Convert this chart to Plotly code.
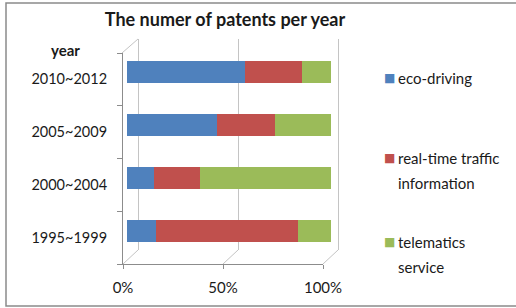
import plotly.graph_objects as go

# ---- data ----
periods = ["1995~1999", "2000~2004", "2005~2009", "2010~2012"]  # bottom -> top
eco_driving = [14, 13, 44, 58]
realtime_traffic = [70, 23, 28.5, 28]
telematics = [16, 64, 27.5, 14]
series_names = ["eco-driving", "real-time traffic<br>information", "telematics<br>service"]
colors = ["#4F81BD", "#C0504D", "#9BBB59"]
x_ticks = [0, 50, 100]
x_tick_labels = ["0%", "50%", "100%"]

W, H = 516, 308
def px(x):
    return x / W
def py(y):
    return 1 - y / H

FONT = "Lato, 'Open Sans', sans-serif"
TXT = "#1a1a1a"
AXC = "#8c8c8c"
GRID = "#c4c4c4"

fig = go.Figure()

# empty traces to register the frame subplots
fig.add_trace(go.Scatter(x=[], y=[], xaxis="x", yaxis="y", showlegend=False, hoverinfo="skip"))
fig.add_trace(go.Scatter(x=[], y=[], xaxis="x2", yaxis="y2", showlegend=False, hoverinfo="skip"))

for vals, name, col in zip([eco_driving, realtime_traffic, telematics], series_names, colors):
    fig.add_trace(go.Bar(
        y=periods, x=vals, orientation="h", name=name,
        marker=dict(color=col, line=dict(width=0)),
        width=0.4, xaxis="x3", yaxis="y3", showlegend=False,
    ))

shapes = []
# 3D frame diagonals (floor depth + wall top)
for (x0, y0, x1, y1) in [(123, 264, 138, 250), (223, 264, 238, 250), (323, 264, 338, 250), (122, 53, 138, 39)]:
    shapes.append(dict(type="line", xref="paper", yref="paper", x0=px(x0), y0=py(y0), x1=px(x1), y1=py(y1),
                       line=dict(color=GRID, width=1), layer="below"))
# outer frame
shapes.append(dict(type="rect", xref="paper", yref="paper", x0=px(6), y0=py(306), x1=1.02, y1=py(3),
                   line=dict(color="#8a8a8a", width=1.5), layer="below"))

annotations = [
    dict(text="<b>year</b>", x=px(65), y=py(50), xref="paper", yref="paper", showarrow=False,
         font=dict(family=FONT, size=15, color=TXT), xanchor="center", yanchor="middle"),
]
# legend-like keys
leg_rows = [(78, ["eco-driving"]), (158, ["real-time traffic", "information"]), (242, ["telematics", "service"])]
for (yy, lines), col in zip(leg_rows, colors):
    annotations.append(dict(text="■", x=px(382), y=py(yy), xref="paper", yref="paper", showarrow=False,
                            font=dict(family="DejaVu Sans", size=12, color=col), xanchor="left", yanchor="middle"))
    for i, ln in enumerate(lines):
        annotations.append(dict(text=ln, x=px(396), y=py(yy + 25 * i), xref="paper", yref="paper",
                                showarrow=False, font=dict(family=FONT, size=15, color=TXT),
                                xanchor="left", yanchor="middle"))

fig.update_layout(
    width=W, height=H, autosize=False,
    margin=dict(l=0, r=0, t=0, b=0, autoexpand=False),
    paper_bgcolor="white", plot_bgcolor="rgba(0,0,0,0)",
    barmode="stack",
    title=dict(text="<b>The numer of patents per year</b>", x=px(225), y=py(20), xanchor="center", yanchor="middle",
               font=dict(family=FONT, size=18, color=TXT)),
    # back wall gridlines (range padded so edge gridlines are not clipped)
    xaxis=dict(domain=[px(136), px(340)], range=[-1, 101], tickvals=x_ticks, showgrid=True, gridcolor=GRID,
               gridwidth=1, showticklabels=False, ticks="", zeroline=False, showline=False, anchor="y",
               fixedrange=True),
    yaxis=dict(domain=[py(250), py(39)], range=[0, 1], visible=False, anchor="x", fixedrange=True),
    # front axes (floor edge and left wall)
    xaxis2=dict(domain=[px(123), px(323)], range=[0, 100], tickvals=x_ticks, ticktext=x_tick_labels,
                ticks="outside", ticklen=4, tickcolor=AXC, showline=True, linecolor=AXC, linewidth=1,
                showgrid=False, zeroline=False, anchor="y2", tickfont=dict(family=FONT, size=15, color=TXT),
                ticklabelstandoff=6, fixedrange=True),
    yaxis2=dict(domain=[py(264), py(53)], range=[-0.5, 3.5], tickvals=[0, 1, 2, 3], ticktext=periods,
                ticks="", showline=True, linecolor=AXC, linewidth=1, showgrid=False, zeroline=False,
                minor=dict(tickvals=[-0.5, 0.5, 1.5, 2.5, 3.5], ticks="outside", ticklen=5, tickcolor=AXC),
                anchor="x2", tickfont=dict(family=FONT, size=14.5, color=TXT), ticklabelstandoff=12,
                fixedrange=True),
    # bars
    xaxis3=dict(domain=[px(127), px(331)], range=[0, 100], visible=False, anchor="y3", fixedrange=True),
    yaxis3=dict(domain=[py(257.5), py(45.5)], type="category", categoryarray=periods, categoryorder="array",
                range=[-0.5, 3.5], visible=False, anchor="x3", fixedrange=True),
    shapes=shapes,
    annotations=annotations,
)

fig.write_html(
    "out.html",
    config={"displayModeBar": False},
    post_script="document.body.style.margin='0';document.documentElement.style.overflow='hidden';"
                "document.body.style.overflow='hidden';",
)
